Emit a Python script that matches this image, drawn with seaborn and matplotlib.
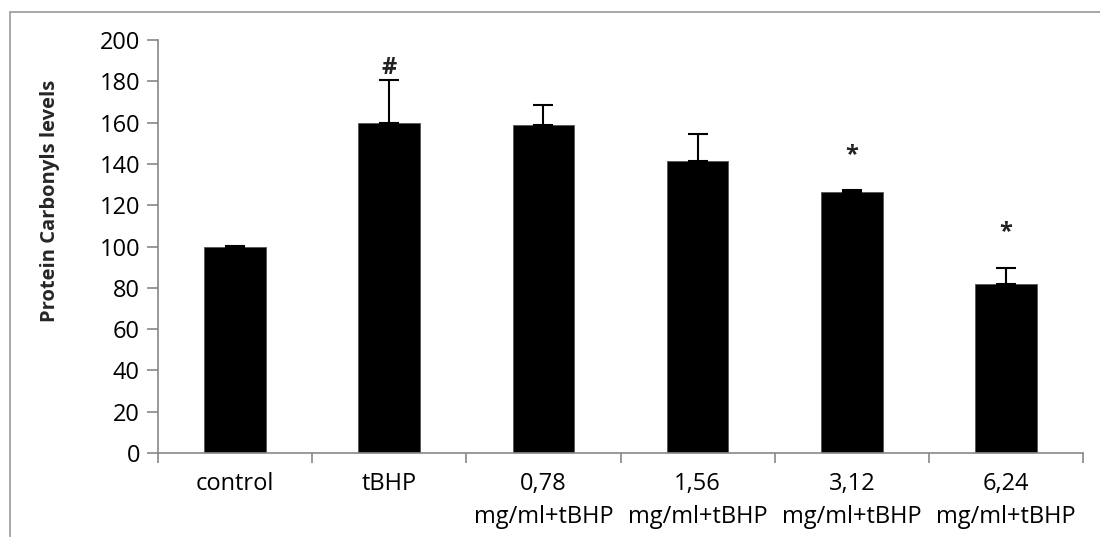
import matplotlib
matplotlib.use('Agg')
import matplotlib.pyplot as plt
import seaborn as sns
import numpy as np
import pandas as pd
from matplotlib.patches import Rectangle

# Values
groups = ['control', 'tBHP', '0,78\nmg/ml+tBHP', '1,56\nmg/ml+tBHP',
          '3,12\nmg/ml+tBHP', '6,24\nmg/ml+tBHP']
levels = [100, 160, 159, 141.3, 126.2, 81.7]
errors = [0.4, 20.5, 9.5, 13, 1.2, 8]
marks = ['', '#', '', '', '*', '*']
mark_offsets = [0, 12, 0, 0, 35, 36]  # pixels above the error cap

df = pd.DataFrame({'group': groups, 'level': levels})

sns.set_style('white')
plt.rcParams['font.family'] = ['Open Sans', 'DejaVu Sans']

fig = plt.figure(figsize=(11, 5.37), dpi=100)
ax = fig.add_axes([158 / 1100, 1 - 453 / 537, 925 / 1100, 413 / 537])

sns.barplot(data=df, x='group', y='level', color='black', width=0.4,
            errorbar=None, saturation=1, ax=ax, edgecolor='#555555', linewidth=0.6)

x = np.arange(len(groups))
ax.errorbar(x, levels, yerr=[np.zeros(len(errors)), errors], fmt='none',
            ecolor='black', elinewidth=1.5, capsize=7, capthick=1.5)

for xi, v, e, m, off in zip(x, levels, errors, marks, mark_offsets):
    if m:
        ax.annotate(m, (xi, v + e), xytext=(0, off * 0.72), textcoords='offset points',
                    ha='center', va='center', fontsize=17, fontweight='bold', color='#222222')

ax.set_ylim(0, 200)
ax.set_xlim(-0.5, len(groups) - 0.5)
ax.set_yticks(range(0, 201, 20))
ax.set_xticks(np.arange(-0.5, len(groups), 1), minor=True)
ax.set_xticks(x)
ax.set_xticklabels(groups)

for s in ['top', 'right']:
    ax.spines[s].set_visible(False)
for s in ['left', 'bottom']:
    ax.spines[s].set_color('#888888')
    ax.spines[s].set_linewidth(1.2)

ax.tick_params(axis='y', which='major', length=8, width=1.2, color='#888888',
               direction='out', left=True, labelsize=17, pad=5, labelcolor='black')
ax.tick_params(axis='x', which='major', length=0, labelsize=17, pad=14, labelcolor='black')
ax.tick_params(axis='x', which='minor', length=7, width=1.2, color='#888888',
               direction='out', bottom=True)
for lab in ax.get_xticklabels():
    lab.set_linespacing(1.45)

ax.set_xlabel('')
ax.set_ylabel('Protein Carbonyls levels', fontsize=14.5, fontweight='bold')
ax.yaxis.set_label_coords(-0.106, 0.61)

# outer chart frame
fig.patches.append(Rectangle((10 / 1100, -0.2), 1.5, 1.2 + (537 - 12) / 537 - 1.0,
                             transform=fig.transFigure, fill=False,
                             edgecolor='#999999', linewidth=1.2))

fig.savefig('out.png', dpi=100)
